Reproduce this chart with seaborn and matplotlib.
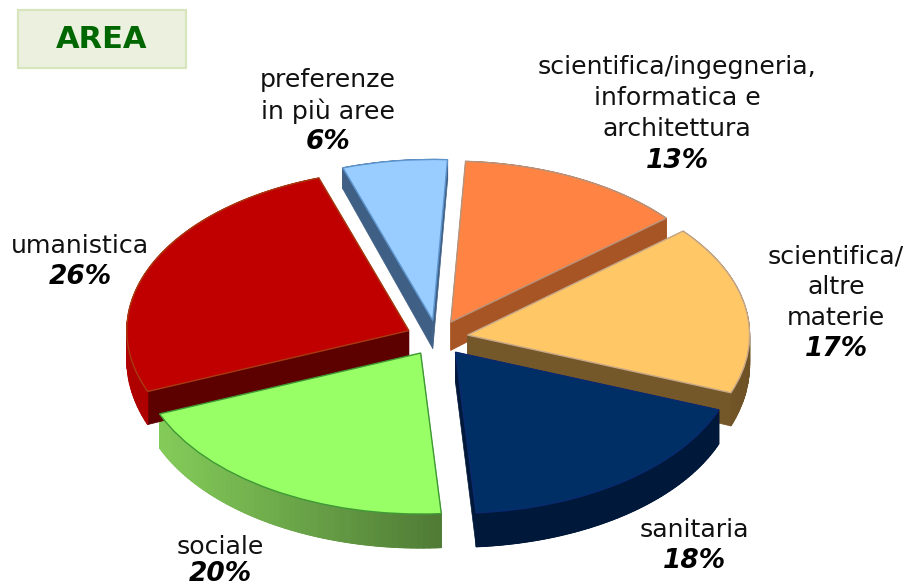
import numpy as np
import matplotlib
matplotlib.use("Agg")
import matplotlib.pyplot as plt
from matplotlib.patches import Rectangle
from matplotlib.colors import to_rgb
import seaborn as sns

# ---- data ----
names = [["scientifica/ingegneria,", "informatica e", "architettura"],
         ["scientifica/", "altre", "materie"],
         ["sanitaria"],
         ["sociale"],
         ["umanistica"],
         ["preferenze", "in più aree"]]
values = [13, 17, 18, 20, 26, 6]

# ---- styles ----
top_colors = ["#FF8443", "#FFC766", "#002F66", "#99FF66", "#C00000", "#99CCFF"]
edge_colors = ["#B8937C", "#C8A888", "#0A2A70", "#3F9A35", "#A83A10", "#5C94CC"]
cut_colors = ["#A85526", "#74582A", "#00183A", "#5F9F40", "#5C0000", "#3F5F85"]
rim_left = ["#A85526", "#7A5D2C", "#00183A", "#84CC5A", "#B00000", "#3F5F85"]
rim_right = ["#A85526", "#6E5226", "#00183A", "#4F7A35", "#A00000", "#3F5F85"]
label_pos = [(677, 67), (836, 256), (694, 530), (220, 547), (80, 246), (328, 80)]
pct_y = [161, 349, 561, 574, 277, 142]
W, H = 908, 587
CX, CY, RX, RY = 437, 338, 282, 161
EXPLODE = 0.11
START = 87
FS = 18.2
LINE = 31

sns.set_theme(style="white")
plt.rcParams["font.family"] = ["DejaVu Sans"]
palette = sns.color_palette(top_colors)

fig = plt.figure(figsize=(W / 100, H / 100), dpi=100, facecolor="white")
ax = fig.add_axes([0, 0, 1, 1])


def depth(y):
    """Side height in data units: perspective makes far points shallower."""
    py = CY - RY * np.asarray(y)
    return np.clip(21 + (py - 218) * 0.07, 21, 34) / RY


total = sum(values)
angle = START
for i, v in enumerate(values):
    sweep = 360 * v / total
    a0, a1 = angle - sweep, angle       # counter-clockwise limits
    angle = a0
    mid = np.radians((a0 + a1) / 2)
    ox, oy = EXPLODE * np.cos(mid), EXPLODE * np.sin(mid)
    # radial cut faces
    for a in (a0, a1):
        ex, ey = ox + np.cos(np.radians(a)), oy + np.sin(np.radians(a))
        ax.fill([ox, ex, ex, ox], [oy, ey, ey - depth(ey), oy - depth(oy)],
                color=cut_colors[i], lw=0.5, zorder=2)
    # outer rim, shaded from left to right
    ts = np.linspace(a0, a1, 60)
    cl, cr = np.array(to_rgb(rim_left[i])), np.array(to_rgb(rim_right[i]))
    x_all = ox + np.cos(np.radians(ts))
    y_all = oy + np.sin(np.radians(ts))
    d_all = depth(y_all)
    ax.fill(np.r_[x_all, x_all[::-1]], np.r_[y_all, (y_all - d_all)[::-1]],
            color=tuple((cl + cr) / 2), lw=0.5, zorder=2)
    for k in range(len(ts) - 1):
        f = (x_all[k] - x_all.min()) / max(x_all.max() - x_all.min(), 1e-6)
        ax.fill([x_all[k], x_all[k + 1], x_all[k + 1], x_all[k]],
                [y_all[k], y_all[k + 1], y_all[k + 1] - d_all[k + 1], y_all[k] - d_all[k]],
                color=tuple(cl + (cr - cl) * f), lw=0.8, zorder=2)

wedges, _ = ax.pie(values, explode=[EXPLODE] * len(values), colors=palette,
                   startangle=START, counterclock=False, radius=1,
                   wedgeprops={"linewidth": 1.0})
for w, ec in zip(wedges, edge_colors):
    w.set_edgecolor(ec)
    w.set_zorder(4)

ax.set_aspect("auto")
ax.set_xlim(-CX / RX, (W - CX) / RX)
ax.set_ylim((CY - H) / RY, CY / RY)
ax.axis("off")

# title box
fig.add_artist(Rectangle((18 / W, 1 - 68 / H), 168 / W, 58 / H, transform=fig.transFigure,
                         facecolor="#EBF1DE", edgecolor="#D7E4BC", linewidth=1.6))
fig.text(102 / W, 1 - 40 / H, "AREA", color="#006600", fontsize=22, fontweight="bold",
         ha="center", va="center")

# labels
for lines, v, (x, y), py in zip(names, values, label_pos, pct_y):
    for j, s in enumerate(lines):
        fig.text(x / W, 1 - (y + j * LINE) / H, s, fontsize=FS, color="#111111",
                 ha="center", va="center")
    fig.text(x / W, 1 - py / H, f"{v}%", fontsize=19,
             fontweight="bold", fontstyle="italic", color="black", ha="center", va="center")

fig.savefig("out.png", dpi=100)
